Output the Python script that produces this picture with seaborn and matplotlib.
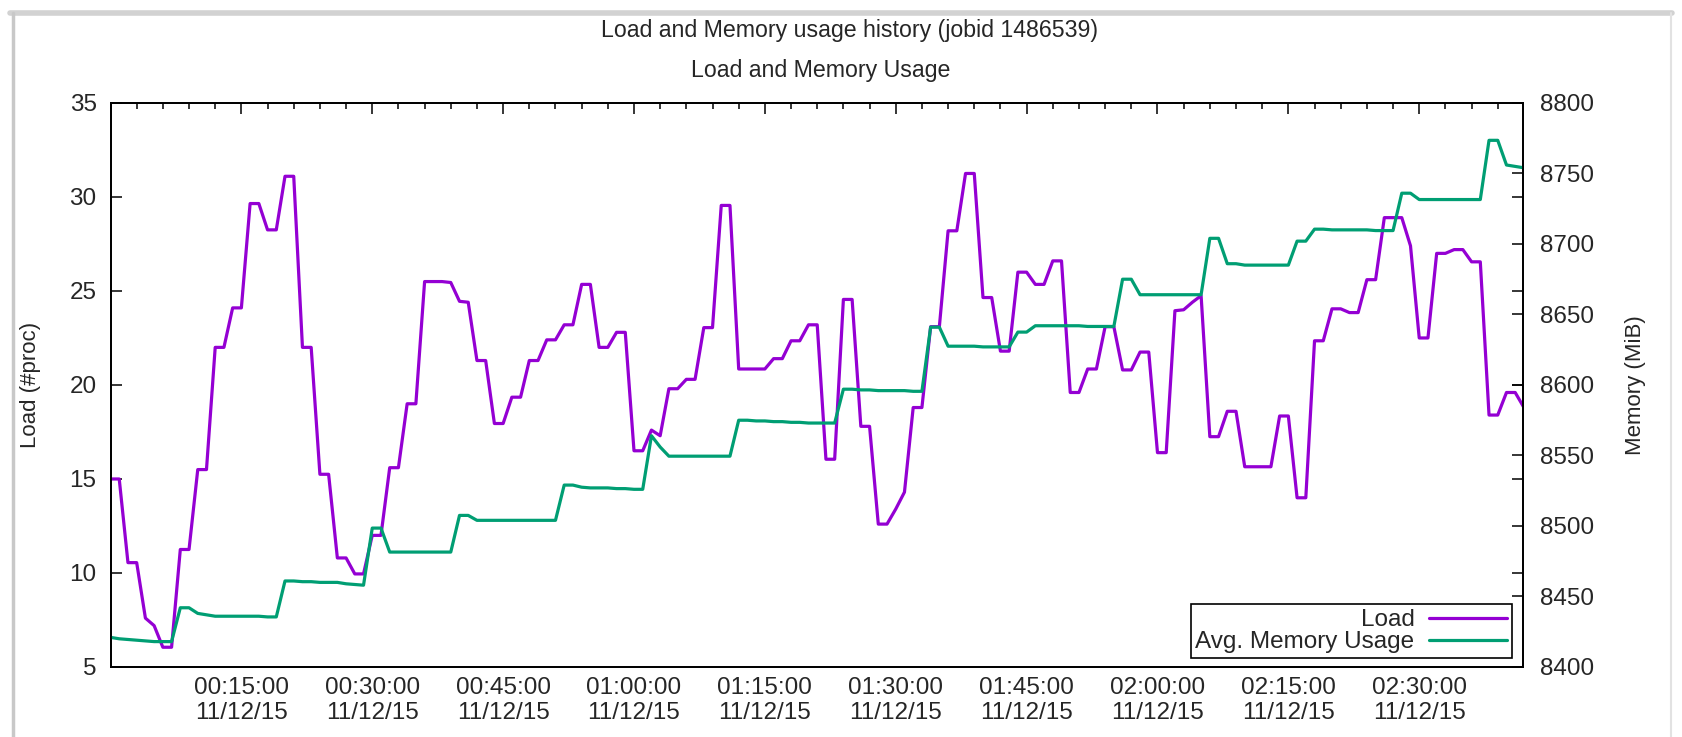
import numpy as np
import pandas as pd
import matplotlib
matplotlib.use("Agg")
import matplotlib.pyplot as plt
import seaborn as sns
from matplotlib.ticker import MultipleLocator, FuncFormatter
from matplotlib.lines import Line2D

# one sample per minute, starting 00:00:00 on 11/12/15
minutes = np.arange(163)

load = [
    15.0, 15.0, 10.55, 10.55, 7.6, 7.2, 6.05, 6.05, 11.25, 11.25,
    15.5, 15.5, 22.0, 22.0, 24.1, 24.1, 29.65, 29.65, 28.25, 28.25,
    31.1, 31.1, 22.0, 22.0, 15.25, 15.25, 10.8, 10.8, 9.95, 9.95,
    12.0, 12.0, 15.6, 15.6, 19.0, 19.0, 25.5, 25.5, 25.5, 25.45,
    24.45, 24.4, 21.3, 21.3, 17.95, 17.95, 19.35, 19.35, 21.3, 21.3,
    22.4, 22.4, 23.2, 23.2, 25.35, 25.35, 22.0, 22.0, 22.8, 22.8,
    16.5, 16.5, 17.6, 17.3, 19.8, 19.8, 20.3, 20.3, 23.05, 23.05,
    29.55, 29.55, 20.85, 20.85, 20.85, 20.85, 21.4, 21.4, 22.35, 22.35,
    23.2, 23.2, 16.05, 16.05, 24.55, 24.55, 17.8, 17.8, 12.6, 12.6,
    13.4, 14.3, 18.8, 18.8, 23.1, 23.1, 28.2, 28.2, 31.25, 31.25,
    24.65, 24.65, 21.8, 21.8, 26.0, 26.0, 25.35, 25.35, 26.6, 26.6,
    19.6, 19.6, 20.85, 20.85, 23.1, 23.1, 20.8, 20.8, 21.75, 21.75,
    16.4, 16.4, 23.95, 24.0, 24.4, 24.75, 17.25, 17.25, 18.6, 18.6,
    15.65, 15.65, 15.65, 15.65, 18.35, 18.35, 14.0, 14.0, 22.35, 22.35,
    24.05, 24.05, 23.85, 23.85, 25.6, 25.6, 28.9, 28.9, 28.9, 27.4,
    22.5, 22.5, 27.0, 27.0, 27.2, 27.2, 26.55, 26.55, 18.4, 18.4,
    19.6, 19.6, 18.8,
]

mem = [
    8421, 8420, 8419.5, 8419, 8418.5, 8418, 8418, 8418, 8442, 8442,
    8438, 8437, 8436, 8436, 8436, 8436, 8436, 8436, 8435.5, 8435.5,
    8461, 8461, 8460.5, 8460.5, 8460, 8460, 8460, 8459, 8458.5, 8458,
    8498.5, 8498.5, 8481.5, 8481.5, 8481.5, 8481.5, 8481.5, 8481.5, 8481.5, 8481.5,
    8507.5, 8507.5, 8504, 8504, 8504, 8504, 8504, 8504, 8504, 8504,
    8504, 8504, 8529, 8529, 8527.5, 8527, 8527, 8527, 8526.5, 8526.5,
    8526, 8526, 8564, 8556, 8549.5, 8549.5, 8549.5, 8549.5, 8549.5, 8549.5,
    8549.5, 8549.5, 8575, 8575, 8574.5, 8574.5, 8574, 8574, 8573.5, 8573.5,
    8573, 8573, 8573, 8573, 8597, 8597, 8596.5, 8596.5, 8596, 8596,
    8596, 8596, 8595.5, 8595.5, 8641, 8641, 8627.5, 8627.5, 8627.5, 8627.5,
    8627, 8627, 8627, 8627, 8637.5, 8637.5, 8642, 8642, 8642, 8642,
    8642, 8642, 8641.5, 8641.5, 8641.5, 8641.5, 8675, 8675, 8664, 8664,
    8664, 8664, 8664, 8664, 8664, 8664, 8704, 8704, 8686, 8686,
    8685, 8685, 8685, 8685, 8685, 8685, 8702, 8702, 8710.5, 8710.5,
    8710, 8710, 8710, 8710, 8710, 8709.5, 8709.5, 8709.5, 8736, 8736,
    8731.5, 8731.5, 8731.5, 8731.5, 8731.5, 8731.5, 8731.5, 8731.5, 8773.5, 8773.5,
    8756, 8755, 8754,
]

tick_minutes = [15, 30, 45, 60, 75, 90, 105, 120, 135, 150]
date_label = "11/12/15"

sns.set_style("white")
plt.rcParams['font.family'] = ['Liberation Sans', 'DejaVu Sans']

df = pd.DataFrame({"minute": minutes, "load": load, "mem": mem})

fig = plt.figure(figsize=(16.82, 7.37), dpi=100)
ax = fig.add_axes([0.0657, 0.095, 0.8398, 0.7653])
ax2 = ax.twinx()

purple = "#9400D3"
green = "#009E73"
sns.lineplot(data=df, x="minute", y="load", ax=ax, color=purple, lw=2.3, legend=False)
sns.lineplot(data=df, x="minute", y="mem", ax=ax2, color=green, lw=2.3, legend=False)

ax.set_xlim(0, 161.9)
ax.set_ylim(5, 35)
ax2.set_ylim(8400, 8800)

ax.set_xticks(tick_minutes)
ax.xaxis.set_major_formatter(FuncFormatter(
    lambda m, pos: "%02d:%02d:00\n%s" % (int(m) // 60, int(m) % 60, date_label)))
ax.xaxis.set_minor_locator(MultipleLocator(3))
ax.set_yticks(range(5, 36, 5))
ax2.set_yticks(range(8400, 8801, 50))

tick_fs = 17.5
ax.tick_params(axis='x', which='major', direction='in', top=True, length=8, width=1.1,
               labelsize=tick_fs, pad=7, color='black')
ax.tick_params(axis='x', which='minor', direction='in', top=True, length=4, width=1.1,
               color='black')
ax.tick_params(axis='y', which='major', direction='in', right=True, length=8, width=1.1,
               labelsize=tick_fs, pad=10, color='black')
ax2.tick_params(axis='y', direction='in', length=8, width=1.1, labelsize=tick_fs, pad=12,
                color='black')

for a in (ax, ax2):
    for s in a.spines.values():
        s.set_color('black')
        s.set_linewidth(1.3)
    a.set_xlabel("")

ax.set_ylabel("Load (#proc)", fontsize=16)
ax.yaxis.set_label_coords(-0.049, 0.5)
ax2.set_ylabel("Memory (MiB)", fontsize=16, rotation=90)
ax2.yaxis.set_label_coords(1.072, 0.5)

fig.text(0.505, 0.958, "Load and Memory usage history (jobid 1486539)",
         ha='center', va='center', fontsize=16.7)
fig.text(0.488, 0.905, "Load and Memory Usage", ha='center', va='center', fontsize=16.7)

handles = [Line2D([], [], color=purple, lw=2.3), Line2D([], [], color=green, lw=2.3)]
leg = ax2.legend(handles, ["Load", "Avg. Memory Usage"], loc='lower right',
                 bbox_to_anchor=(0.992, 0.016), markerfirst=False, fancybox=False,
                 edgecolor='black', framealpha=1, fontsize=tick_fs, handlelength=3.2,
                 labelspacing=0.0, borderpad=0.2, borderaxespad=0, handletextpad=0.6)
leg.get_frame().set_linewidth(1.2)

# light grey frame of the original screenshot
fig.add_artist(Line2D([0.006, 0.994], [0.982, 0.982], transform=fig.transFigure,
                      color='#d2d2d2', lw=4))
fig.add_artist(Line2D([0.0075, 0.0075], [0.0, 0.982], transform=fig.transFigure,
                      color='#c8c8c8', lw=2.5))
fig.add_artist(Line2D([0.9935, 0.9935], [0.0, 0.982], transform=fig.transFigure,
                      color='#e2e2e2', lw=1.5))

fig.savefig("out.png", dpi=100)
